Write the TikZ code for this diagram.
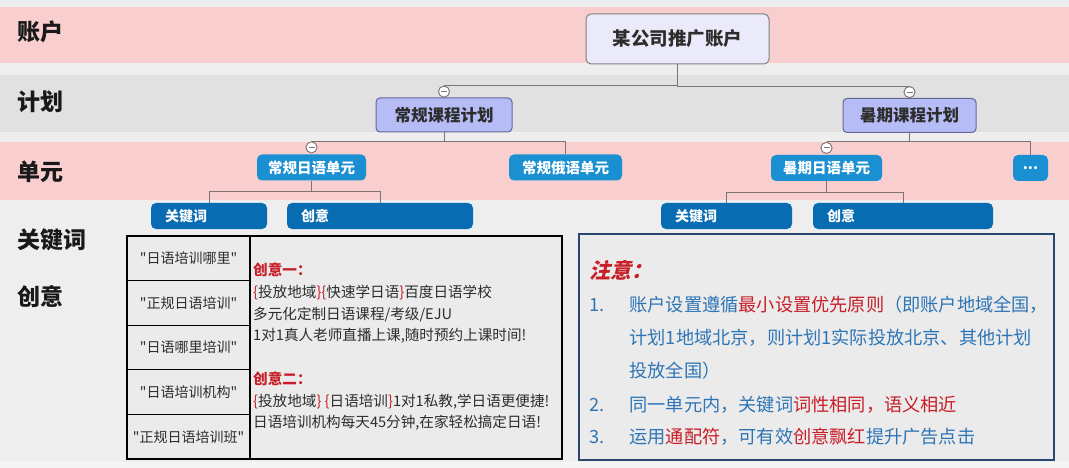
\documentclass[tikz,border=0pt]{standalone}
\usepackage{fontspec}
\setmainfont{Noto Sans CJK SC}
\newfontfamily\kwfont{Noto Sans CJK SC}
\usetikzlibrary{positioning}

\definecolor{bggrey}{RGB}{238,238,238}
\definecolor{bandpink}{RGB}{248,206,206}
\definecolor{bandgrey}{RGB}{225,225,225}
\definecolor{rootfill}{RGB}{234,234,250}
\definecolor{planfill}{RGB}{182,188,246}
\definecolor{unitfill}{RGB}{26,143,210}
\definecolor{kwfill}{RGB}{8,108,178}
\definecolor{linkgrey}{RGB}{125,115,115}
\definecolor{notered}{RGB}{200,30,40}
\definecolor{noteblue}{RGB}{46,117,182}
\definecolor{boxblue}{RGB}{40,70,110}
\definecolor{txtgrey}{RGB}{45,45,45}

\begin{document}
\begin{tikzpicture}[x=1pt,y=-1pt,
	link/.style={draw=linkgrey,line width=1pt},
	minus/.style={circle,draw=linkgrey,fill=white,line width=0.8pt,minimum size=11pt,inner sep=0pt,
		path picture={\draw[linkgrey,line width=0.8pt] ([xshift=-3pt]path picture bounding box.center) -- ([xshift=3pt]path picture bounding box.center);}},
	rootbox/.style={draw=gray,fill=rootfill,rounded corners=5pt,line width=1pt,minimum width=183pt,minimum height=50pt,font=\fontsize{18.5}{20}\selectfont\bfseries,text=txtgrey},
	planbox/.style={draw=gray!80!blue,fill=planfill,rounded corners=4pt,line width=1pt,minimum height=34pt,font=\fontsize{16.5}{18}\selectfont\bfseries,text=txtgrey},
	unitbox/.style={fill=unitfill,rounded corners=5pt,minimum height=26pt,font=\fontsize{14.5}{16}\selectfont\bfseries,text=white},
	kwbox/.style={fill=kwfill,rounded corners=5pt,minimum height=26pt,text width=#1,inner xsep=14pt,font=\fontsize{14}{16}\selectfont\bfseries,text=white},
	rowlabel/.style={anchor=west,font=\fontsize{23}{25}\selectfont\bfseries,text=black!90},
	kwcell/.style={draw=black,line width=1.2pt,outer sep=0pt,inner xsep=1pt,fill=black!8,minimum width=123pt,minimum height=44.6pt,font=\kwfont\fontsize{14}{16}\selectfont,text=txtgrey},
	noteline/.style={anchor=west,font=\fontsize{18.2}{20}\selectfont,text=noteblue}]

	\fill[bggrey] (0,0) rectangle (1069,468);
	\fill[black!4] (0,462) rectangle (1069,468);
	\fill[bandpink] (0,7) rectangle (1069,63);
	\fill[bandgrey] (0,75) rectangle (1069,132);
	\fill[bandpink] (0,142) rectangle (1069,200);

	\node[rowlabel] (lacc) at (14,32) {账户};
	\node[rowlabel] (lplan) at (14,102) {计划};
	\node[rowlabel] (lunit) at (14,172) {单元};
	\node[rowlabel] (lkw) at (14,240) {关键词};
	\node[rowlabel] (lcr) at (14,297) {创意};

	\node[rootbox] (root) at (677.5,39) {某公司推广账户};
	\node[planbox,minimum width=136pt] (p1) at (444,115) {常规课程计划};
	\node[planbox,minimum width=133pt] (p2) at (909.5,115.5) {暑期课程计划};
	\node[unitbox,minimum width=109pt] (u1) at (311.5,167.5) {常规日语单元};
	\node[unitbox,minimum width=113pt] (u2) at (565.5,167.5) {常规俄语单元};
	\node[unitbox,minimum width=111pt] (u3) at (826.5,168) {暑期日语单元};
	\node[unitbox,minimum width=35pt] (u4) at (1030.5,168) {...};
	\node[kwbox=88pt] (k1) at (209,216) {关键词};
	\node[kwbox=158pt] (c1) at (380,216) {创意};
	\node[kwbox=103pt] (k2) at (726.5,216) {关键词};
	\node[kwbox=152pt] (c2) at (903,216) {创意};

	\node[minus,above=0pt of p1] (m1) {};
	\node[minus,above=0pt of p2] (m2) {};
	\node[minus,above=1pt of u1] (m3) {};
	\node[minus,above=1pt of u3] (m4) {};

	\path[link] (root.south) |- (m1.north);
	\path[link] (root.south) |- (m2.north);
	\path[link] (p1.south) -- (p1.south |- m3.north);
	\path[link] (m3.north) -| (u2.north);
	\path[link] (p2.south) -- (p2.south |- m4.north);
	\path[link] (m4.north) -| (u4.north);
	\path[link] (u1.south) -- ++(0,11) coordinate (j1);
	\path[link] (k1.north) |- (j1) -| (c1.north);
	\path[link] (u3.south) -- ++(0,11) coordinate (j2);
	\path[link] (k2.north) |- (j2) -| (c2.north);
	\node[minus] at (m1) {};
	\node[minus] at (m2) {};
	\node[minus] at (m3) {};
	\node[minus] at (m4) {};

	\node[draw=black,line width=1.2pt,fill=black!8,minimum width=312pt,minimum height=223pt] (crcell) at (406,347.5) {};
	\node[kwcell] (kw1) at (188.5,258.3) {"日语培训哪里"};
	\node[kwcell,below=0pt of kw1] (kw2) {"正规日语培训"};
	\node[kwcell,below=0pt of kw2] (kw3) {"日语哪里培训"};
	\node[kwcell,below=0pt of kw3] (kw4) {"日语培训机构"};
	\node[kwcell,below=0pt of kw4] (kw5) {"正规日语培训班"};
	\node[anchor=north west,align=left,inner sep=0pt,text=txtgrey,font=\fontsize{14.6}{21.7}\selectfont] (crtext) at (253,263) {%
		\textcolor{notered}{\bfseries 创意一：}\\
		\textcolor{notered}{\{}投放地域\textcolor{notered}{\}\{}快速学日语\textcolor{notered}{\}}百度日语学校\\
		多元化定制日语课程/考级/EJU\\
		1对1真人老师直播上课,随时预约上课时间!\\[21.7pt]
		\textcolor{notered}{\bfseries 创意二：}\\
		\textcolor{notered}{\{}投放地域\textcolor{notered}{\}} \textcolor{notered}{\{}日语培训\textcolor{notered}{\}}1对1私教,学日语更便捷!\\
		日语培训机构每天45分钟,在家轻松搞定日语!};

	\node[draw=boxblue,line width=1.5pt,fill=black!8,minimum width=475pt,minimum height=226pt] (note) at (816.5,347) {};
	\node[anchor=west,text=notered,xslant=0.25,transform shape,font=\fontsize{21}{24}\selectfont\bfseries] (notehd) at (588,270) {注意：};
	\node[noteline] (n1) at (586,305) {1.};
	\node[noteline] (t1) at (626,305) {账户设置遵循\textcolor{notered}{最小设置优先原则}（即账户地域全国，};
	\node[noteline] (t1b) at (626,338) {计划1地域北京，则计划1实际投放北京、其他计划};
	\node[noteline] (t1c) at (626,371) {投放全国）};
	\node[noteline] (n2) at (586,405) {2.};
	\node[noteline] (t2) at (626,405) {同一单元内，关键词\textcolor{notered}{词性相同，语义相近}};
	\node[noteline] (n3) at (586,437) {3.};
	\node[noteline] (t3) at (626,437) {运用\textcolor{notered}{通配符}，可有效\textcolor{notered}{创意飘红}提升广告点击};

\end{tikzpicture}
\end{document}
